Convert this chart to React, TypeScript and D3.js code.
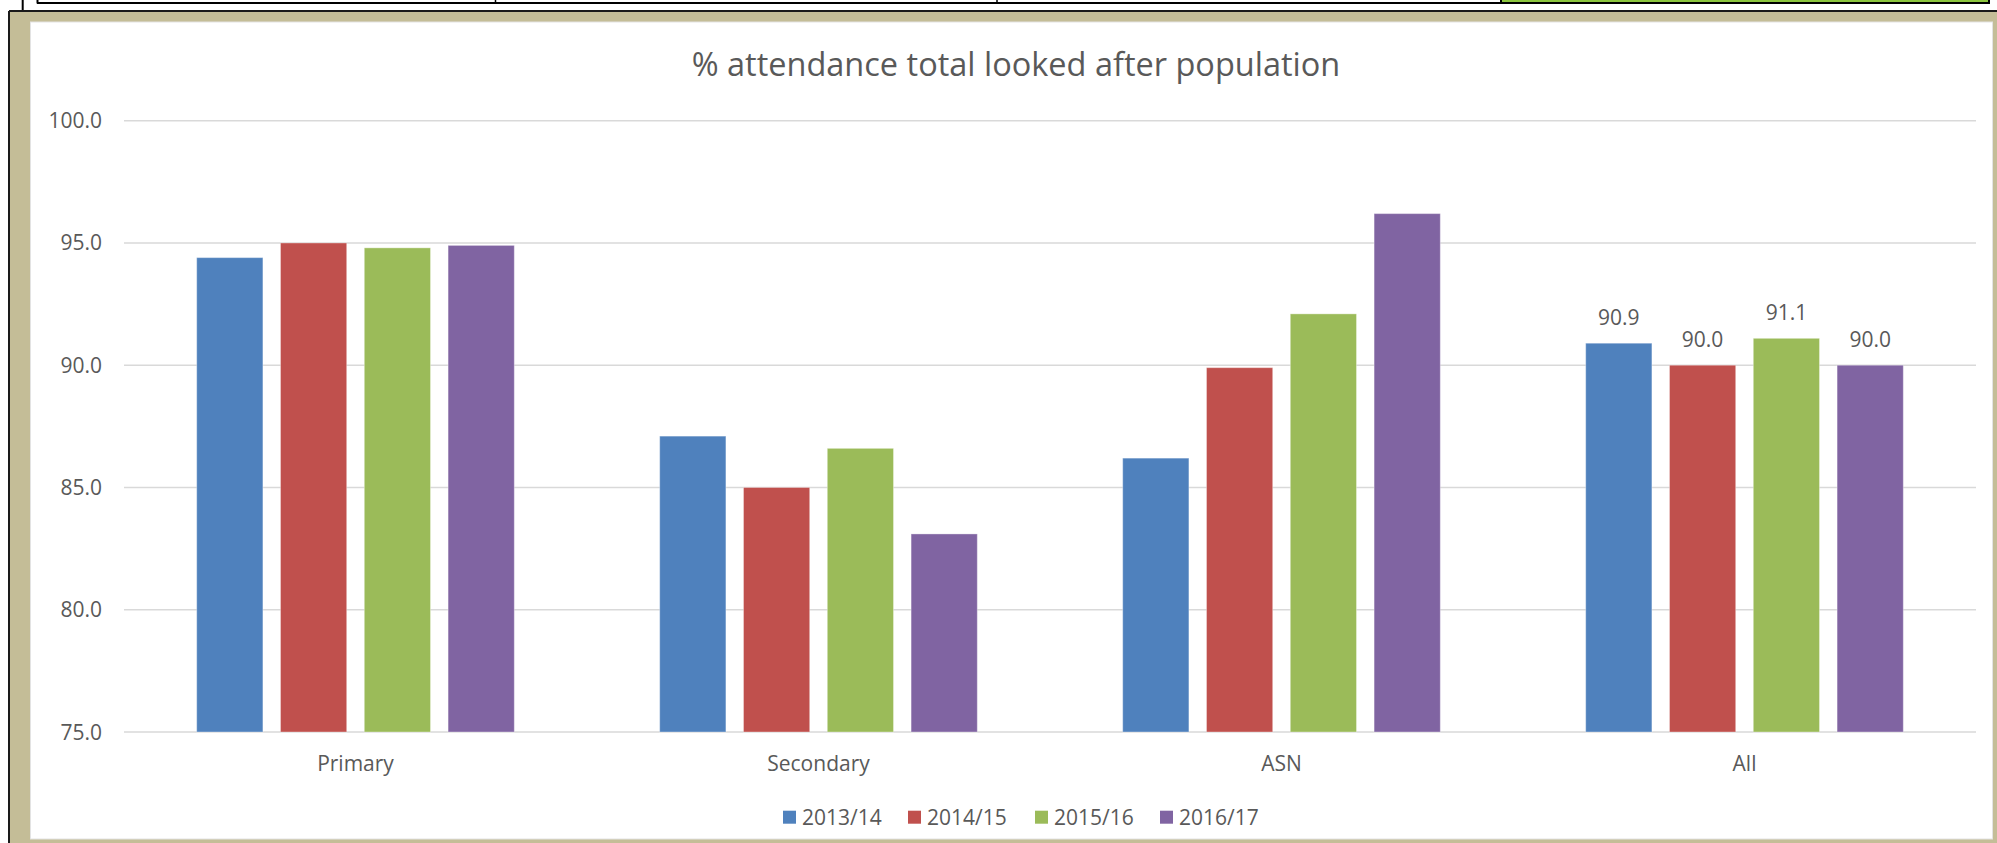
import React from "react";
import * as d3 from "d3";

const categories = ["Primary", "Secondary", "ASN", "All"];
const seriesNames = ["2013/14", "2014/15", "2015/16", "2016/17"];
const seriesColors = ["#4F81BD", "#C0504D", "#9BBB59", "#8064A2"];
const values2013 = [94.4, 87.1, 86.2, 90.9];
const values2014 = [95.0, 85.0, 89.9, 90.0];
const values2015 = [94.8, 86.6, 92.1, 91.1];
const values2016 = [94.9, 83.1, 96.2, 90.0];
const yTicks = [75, 80, 85, 90, 95, 100];
const labelledCategories = ["All"];
const titleText = "% attendance total looked after population";

const seriesValues = [values2013, values2014, values2015, values2016];

const W = 1997;
const H = 843;
const FONT = "'Open Sans', sans-serif";
const TEXT = "#595959";

export default function App() {
  const plotLeft = 124;
  const plotRight = 1976;
  const plotTop = 120.7;
  const plotBottom = 732;

  const x0 = d3.scaleBand<string>().domain(categories).range([plotLeft, plotRight]).padding(0);
  const bw = x0.bandwidth();
  const outer = 72.7;
  const x1 = d3
    .scaleBand<string>()
    .domain(seriesNames)
    .range([outer, bw - outer])
    .paddingInner(0.21)
    .paddingOuter(0);
  const y = d3.scaleLinear().domain([75, 100]).range([plotBottom, plotTop]);

  const legendX = [783, 908, 1035, 1160];

  return (
    <svg
      width={W}
      height={H}
      style={{ position: "absolute", left: 0, top: 0, display: "block" }}
      xmlns="http://www.w3.org/2000/svg"
    >
      <rect x={0} y={0} width={W} height={H} fill="#ffffff" />
      {/* table remnants at the top */}
      <line x1={22.7} y1={0} x2={22.7} y2={11} stroke="#000" strokeWidth={2} />
      <line x1={37.5} y1={0} x2={37.5} y2={3.5} stroke="#000" strokeWidth={2} />
      <line x1={37} y1={3} x2={1990} y2={3} stroke="#000" strokeWidth={2} />
      <line x1={495.5} y1={0} x2={495.5} y2={3} stroke="#000" strokeWidth={1.5} />
      <line x1={997} y1={0} x2={997} y2={3} stroke="#000" strokeWidth={1.5} />
      <rect x={1501} y={0} width={488} height={2} fill="#8CC63F" />
      <line x1={1501} y1={0} x2={1501} y2={4} stroke="#000" strokeWidth={2} />
      <line x1={1989} y1={0} x2={1989} y2={4} stroke="#000" strokeWidth={2} />

      {/* frame */}
      <rect x={9} y={11} width={W - 9} height={H - 11} fill="#C4BD97" />
      <line x1={9} y1={11} x2={W} y2={11} stroke="#1a1a1a" strokeWidth={2} />
      <line x1={9} y1={11} x2={9} y2={H} stroke="#1a1a1a" strokeWidth={2} />
      <rect x={30.5} y={22} width={1962} height={817} fill="#ffffff" stroke="#E3E3E3" strokeWidth={1} />

      {/* title */}
      <text
        x={1016}
        y={76}
        textAnchor="middle"
        fontFamily={FONT}
        fontSize={32.5}
        fill={TEXT}
      >
        {titleText}
      </text>

      {/* gridlines and y ticks */}
      {yTicks.map((t) => (
        <g key={t}>
          <line
            x1={plotLeft}
            x2={plotRight}
            y1={y(t)}
            y2={y(t)}
            stroke="#D9D9D9"
            strokeWidth={1.5}
          />
          <text
            x={102}
            y={y(t) + 7.5}
            textAnchor="end"
            fontFamily={FONT}
            fontSize={21}
            fill={TEXT}
          >
            {t.toFixed(1)}
          </text>
        </g>
      ))}

      {/* bars */}
      {categories.map((c, ci) => (
        <g key={c} transform={`translate(${x0(c)},0)`}>
          {seriesNames.map((s, si) => {
            const v = seriesValues[si][ci];
            const bx = x1(s) as number;
            return (
              <g key={s}>
                <rect
                  x={bx}
                  y={y(v)}
                  width={x1.bandwidth()}
                  height={y(75) - y(v)}
                  fill={seriesColors[si]}
                  stroke="#ffffff"
                  strokeOpacity={0.35}
                  strokeWidth={1}
                />
                {labelledCategories.includes(c) && (
                  <text
                    x={bx + x1.bandwidth() / 2}
                    y={y(v) - 18}
                    textAnchor="middle"
                    fontFamily={FONT}
                    fontSize={21}
                    fill={TEXT}
                  >
                    {v.toFixed(1)}
                  </text>
                )}
              </g>
            );
          })}
          <text
            x={bw / 2}
            y={771}
            textAnchor="middle"
            fontFamily={FONT}
            fontSize={21}
            fill={TEXT}
          >
            {c}
          </text>
        </g>
      ))}

      {/* legend */}
      {seriesNames.map((s, si) => (
        <g key={s} transform={`translate(${legendX[si]},0)`}>
          <rect x={0} y={810.7} width={13} height={13} fill={seriesColors[si]} />
          <text x={19} y={824.5} fontFamily={FONT} fontSize={21} fill={TEXT}>
            {s}
          </text>
        </g>
      ))}
    </svg>
  );
}
